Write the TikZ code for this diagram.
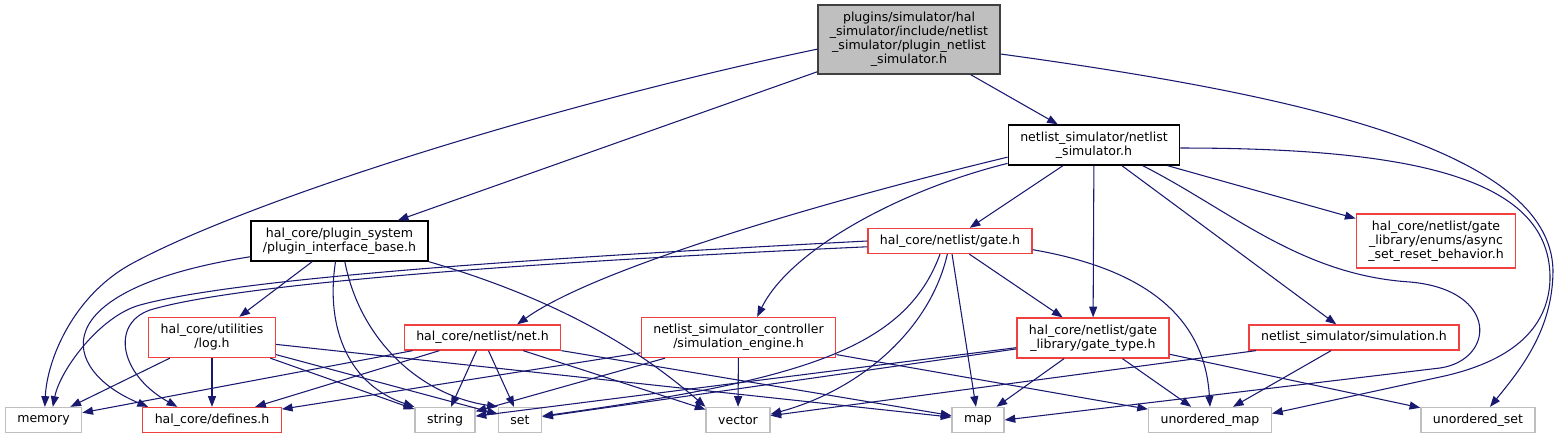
\documentclass[tikz,border=0pt]{standalone}
\usepackage{fontspec}
\setmainfont{DejaVu Sans}
\usetikzlibrary{arrows.meta}

\definecolor{edgeblue}{HTML}{191970}
\definecolor{boxred}{HTML}{F04040}
\definecolor{boxgray}{HTML}{BFBFBF}

\tikzset{
  file/.style={draw, line width=1pt, align=center, inner xsep=9pt, inner ysep=0pt,
    font=\fontsize{9.4}{10.5}\selectfont},
  hdr/.style={file, draw=black!75, fill=boxgray},
  inc/.style={file, draw=black},
  prj/.style={file, draw=boxred},
  sys/.style={file, draw=boxgray},
  l1/.style={minimum height=18.75pt},
  l2/.style={minimum height=30pt},
  l3/.style={minimum height=40.5pt},
  l4/.style={minimum height=51.75pt},
  dep/.style={draw=edgeblue, line width=0.8pt, -{Triangle[length=8pt,width=6pt]}}
}

\begin{document}
\begin{tikzpicture}[x=0.75pt, y=-0.75pt]
    \useasboundingbox (0,0) rectangle (1554,439);

    % Header and first level
    \node[hdr, l4] (top) at (909,39.5) {plugins/simulator/hal\\\_simulator/include/netlist\\\_simulator/plugin\_netlist\\\_simulator.h};
    \node[inc, l2] (ns) at (1094,145) {netlist\_simulator/netlist\\\_simulator.h};
    \node[inc, l2] (pib) at (339.5,241) {hal\_core/plugin\_system\\/plugin\_interface\_base.h};
    \node[prj, l1] (gate) at (950,241) {hal\_core/netlist/gate.h};
    \node[prj, l3] (async) at (1436,241) {hal\_core/netlist/gate\\\_library/enums/async\\\_set\_reset\_behavior.h};

    % Middle row
    \node[prj, l2] (log) at (212,337.5) {hal\_core/utilities\\/log.h};
    \node[prj, l1] (net) at (482.5,337.5) {hal\_core/netlist/net.h};
    \node[prj, l2] (engine) at (738.5,337.5) {netlist\_simulator\_controller\\/simulation\_engine.h};
    \node[prj, l2] (gatetype) at (1093,338) {hal\_core/netlist/gate\\\_library/gate\_type.h};
    \node[prj, l1] (simulation) at (1354,337.5) {netlist\_simulator/simulation.h};

    % Leaves
    \node[sys, l1] (memory) at (43.5,420) {memory};
    \node[prj, l1] (defines) at (212,420) {hal\_core/defines.h};
    \node[sys, l1] (string) at (445,420) {string};
    \node[sys, l1] (set) at (520,420) {set};
    \node[sys, l1] (vector) at (738,420) {vector};
    \node[sys, l1] (map) at (978,420) {map};
    \node[sys, l1] (umap) at (1210,420) {unordered\_map};
    \node[sys, l1] (uset) at (1478,420) {unordered\_set};

    % Header includes
    \draw[dep] (top.186) .. controls (550,105) and (250,200) .. (133,263) .. controls (73,295) and (47,360) .. ([xshift=1pt]memory.north);
    \draw[dep] (top) -- (pib);
    \draw[dep] (top) -- (ns);
    \draw[dep] (top.351) .. controls (1300,95) and (1550,150) .. (1553,270) .. controls (1553,330) and (1520,370) .. ([xshift=9pt]uset.north);

    % netlist_simulator.h
    \draw[dep] (ns) -- (gate);
    \draw[dep] (ns.188) .. controls (850,195) and (600,265) .. ([xshift=26pt]net.north);
    \draw[dep] (ns.192) .. controls (900,190) and (790,250) .. ([xshift=14pt]engine.north);
    \draw[dep] (ns) -- (gatetype);
    \draw[dep] (ns) -- (simulation);
    \draw[dep] (ns) -- (async);
    \draw[dep] (ns.337) .. controls (1230,210) and (1300,275) .. (1410,282) .. controls (1500,290) and (1495,360) .. (1440,368) -- (map.east);
    \draw[dep] (ns.358) .. controls (1420,148) and (1552,180) .. (1550,280) .. controls (1548,330) and (1510,362) .. (1440,377) -- (umap.6);

    % plugin_interface_base.h
    \draw[dep] (pib) -- (log);
    \draw[dep] (pib.190) .. controls (40,290) and (60,370) .. ([xshift=-48pt]defines.north);
    \draw[dep] ([xshift=-3pt]pib.south) .. controls (325,330) and (350,385) .. (string.north west);
    \draw[dep] ([xshift=4pt]pib.south) .. controls (360,340) and (420,395) .. (set.north west);
    \draw[dep] (pib.south east) .. controls (560,300) and (640,350) .. (vector.north west);

    % gate.h
    \draw[dep] (gate.west) .. controls (600,255) and (250,275) .. (140,305) .. controls (100,316) and (60,370) .. ([xshift=7pt]memory.north);
    \draw[dep] (gate.184) .. controls (600,259) and (250,280) .. (150,310) .. controls (110,324) and (120,375) .. ([xshift=-26pt]defines.north);
    \draw[dep] ([xshift=-7.5pt]gate.south) .. controls (905,350) and (800,380) .. (set.10);
    \draw[dep] ([xshift=-2pt]gate.south) .. controls (930,330) and (860,390) .. (vector.10);
    \draw[dep] (gate) -- (map);
    \draw[dep] (gate) -- (gatetype);
    \draw[dep] (gate.354) .. controls (1150,270) and (1205,320) .. (umap.north);

    % log.h
    \draw[dep] (log) -- (memory);
    \draw[dep] (log) -- (defines);
    \draw[dep] (log) -- (string);
    \draw[dep] (log) -- (set);
    \draw[dep] (log) -- (map);

    % net.h
    \draw[dep] (net) -- (memory);
    \draw[dep] (net) -- (defines);
    \draw[dep] (net) -- (string);
    \draw[dep] (net) -- (set);
    \draw[dep] (net) -- (vector);
    \draw[dep] (net) -- (map);

    % simulation_engine.h
    \draw[dep] (engine) -- (defines);
    \draw[dep] (engine) -- (string);
    \draw[dep] (engine) -- (vector);
    \draw[dep] (engine) -- (umap);

    % gate_type.h
    \draw[dep] (gatetype) -- (set);
    \draw[dep] (gatetype) -- (string);
    \draw[dep] (gatetype) -- (map);
    \draw[dep] (gatetype) -- (umap);
    \draw[dep] (gatetype) -- (uset);

    % simulation.h
    \draw[dep] (simulation) -- (vector);
    \draw[dep] (simulation) -- (umap);
\end{tikzpicture}
\end{document}
